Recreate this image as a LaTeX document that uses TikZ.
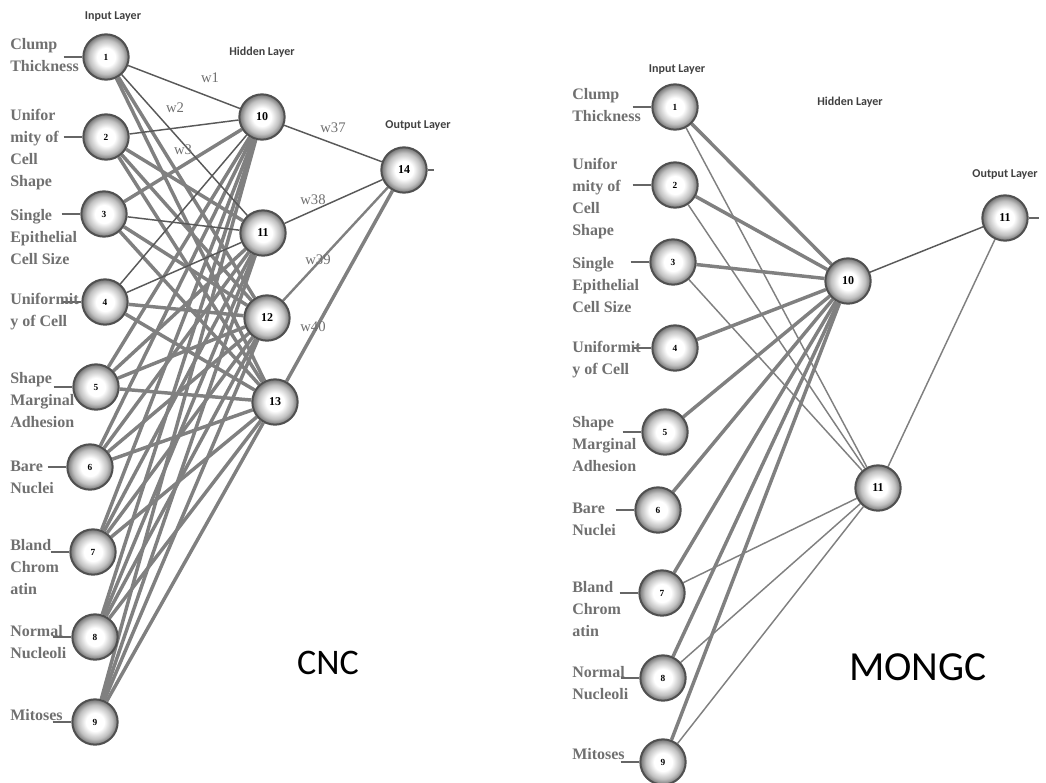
\documentclass[tikz,border=0pt]{standalone}
\usepackage{fontspec}
\setmainfont{Liberation Serif}
\newfontfamily\calfont{Carlito}
\usetikzlibrary{positioning,backgrounds}
\definecolor{txtgray}{RGB}{112,112,112}
\definecolor{edgegray}{RGB}{128,128,128}
\definecolor{rimgray}{RGB}{80,80,80}
\pgfdeclareradialshading{neuronball}{\pgfpoint{0bp}{0bp}}{%
  color(0bp)=(white); color(10bp)=(white); color(19bp)=(black!25);
  color(25bp)=(black!55); color(50bp)=(black!55)}
\tikzset{
  neuron/.style={circle,draw=rimgray,line width=1.5pt,minimum size=34pt,inner sep=0pt,
    shading=neuronball,font=\bfseries\scriptsize},
  hidneuron/.style={neuron,font=\bfseries\small},
  feat/.style={anchor=north west,align=left,inner sep=0pt,text=txtgray,
    font=\bfseries\fontsize{12}{16.5}\selectfont},
  layer/.style={text=black!75,font=\calfont\bfseries\fontsize{9}{10}\selectfont},
  wlabel/.style={text=txtgray,font=\fontsize{11}{12}\selectfont},
  syn/.style={draw=edgegray,line width=2.6pt},
  midsyn/.style={draw=edgegray,line width=1.8pt},
  fine/.style={draw=black!65,line width=1.1pt},
  finegray/.style={draw=edgegray,line width=1.1pt},
  stub/.style={draw=black!60,line width=2pt}
}
\begin{document}
\begin{tikzpicture}[x=0.75pt,y=-0.75pt]
\useasboundingbox (0,0) rectangle (1046,782);

% ---------------- CNC ----------------
\node[neuron] (a1) at (106,57) {1};
\node[neuron] (a2) at (106,137) {2};
\node[neuron] (a3) at (104,214) {3};
\node[neuron] (a4) at (105,302) {4};
\node[neuron] (a5) at (96,387) {5};
\node[neuron] (a6) at (90,467) {6};
\node[neuron] (a7) at (93,552) {7};
\node[neuron] (a8) at (95,637) {8};
\node[neuron] (a9) at (95,722) {9};

\node[hidneuron] (h10) at (262,117) {10};
\node[hidneuron] (h11) at (263,233) {11};
\node[hidneuron] (h12) at (267,318) {12};
\node[hidneuron] (h13) at (275,402) {13};

\node[hidneuron] (o14) at (404,170) {14};

\node[layer] (inA) at (113,17) {Input Layer};
\node[layer] (hidA) at (262,52) {Hidden Layer};
\node[layer] (outA) at (418,126) {Output Layer};

\node[feat] (l1) at (10,38) {Clump\\Thickness};
\node[feat] (l2) at (10,109) {Unifor\\mity of\\Cell\\Shape};
\node[feat] (l3) at (10,209) {Single\\Epithelial\\Cell Size};
\node[feat] (l4) at (10,293) {Uniformit\\y of Cell};
\node[feat] (l5) at (10,372) {Shape\\Marginal\\Adhesion};
\node[feat] (l6) at (10,461) {Bare\\Nuclei};
\node[feat] (l7) at (10,539) {Bland\\Chrom\\atin};
\node[feat] (l8) at (10,625) {Normal\\Nucleoli};
\node[feat] (l9) at (10,709) {Mitoses};

\node[wlabel] (w1) at (210,78) {w1};
\node[wlabel] (w2) at (175,108) {w2};
\node[wlabel] (w3) at (183,150) {w3};
\node[wlabel] (w37) at (333,128) {w37};
\node[wlabel] (w38) at (313,200) {w38};
\node[wlabel] (w39) at (318,260) {w39};
\node[wlabel] (w40) at (313,327) {w40};

\node[font=\calfont\fontsize{27}{30}\selectfont] (cnc) at (328,663) {CNC};

\foreach \i in {1,...,9}
  \coordinate[left=14pt of a\i] (t\i);
\coordinate[right=5pt of o14] (u14);

\begin{scope}[on background layer]
  \foreach \j in {10,...,13}
    \foreach \i in {5,...,9}
      \draw[syn] (a\i) -- (h\j);
  \foreach \i/\j in {1/12,1/13,2/11,2/12,2/13,3/10,3/12,3/13,4/12,4/13}
    \draw[syn] (a\i) -- (h\j);
  \foreach \i/\j in {1/10,1/11,2/10,3/11,4/10,4/11}
    \draw[fine] (a\i) -- (h\j);
  \draw[fine] (h10) -- (o14);
  \draw[fine] (h11) -- (o14);
  \draw[midsyn] (h12) -- (o14);
  \draw[syn] (h13) -- (o14);
  \foreach \i in {1,...,9}
    \draw[stub] (t\i) -- (a\i);
  \draw[stub] (o14) -- (u14);
\end{scope}

% ---------------- MONGC ----------------
\node[neuron] (b1) at (675,107) {1};
\node[neuron] (b2) at (675,185) {2};
\node[neuron] (b3) at (673,262) {3};
\node[neuron] (b4) at (675,348) {4};
\node[neuron] (b5) at (665,432) {5};
\node[neuron] (b6) at (658,510) {6};
\node[neuron] (b7) at (662,593) {7};
\node[neuron] (b8) at (663,678) {8};
\node[neuron] (b9) at (663,762) {9};

\node[hidneuron] (g10) at (848,281) {10};
\node[hidneuron] (g11) at (878,488) {11};

\node[hidneuron] (p11) at (1005,218) {11};

\node[layer] (inB) at (677,70) {Input Layer};
\node[layer] (hidB) at (850,102) {Hidden Layer};
\node[layer] (outB) at (1005,175) {Output Layer};

\node[feat] (m1) at (572,88) {Clump\\Thickness};
\node[feat] (m2) at (572,158) {Unifor\\mity of\\Cell\\Shape};
\node[feat] (m3) at (572,257) {Single\\Epithelial\\Cell Size};
\node[feat] (m4) at (572,341) {Uniformit\\y of Cell};
\node[feat] (m5) at (572,416) {Shape\\Marginal\\Adhesion};
\node[feat] (m6) at (572,503) {Bare\\Nuclei};
\node[feat] (m7) at (572,581) {Bland\\Chrom\\atin};
\node[feat] (m8) at (572,666) {Normal\\Nucleoli};
\node[feat] (m9) at (572,748) {Mitoses};

\node[font=\calfont\fontsize{31}{34}\selectfont] (mongc) at (918,667) {MONGC};

\foreach \i in {1,...,9}
  \coordinate[left=14pt of b\i] (r\i);
\coordinate[right=8pt of p11] (q11);

\begin{scope}[on background layer]
  \foreach \i in {1,...,9}
    \draw[syn] (b\i) -- (g10);
  \foreach \i in {1,2,3,7,8,9}
    \draw[finegray] (b\i) -- (g11);
  \draw[fine] (g10) -- (p11);
  \draw[finegray] (g11) -- (p11);
  \foreach \i in {1,...,9}
    \draw[stub] (r\i) -- (b\i);
  \draw[stub] (p11) -- (q11);
\end{scope}
\end{tikzpicture}
\end{document}
